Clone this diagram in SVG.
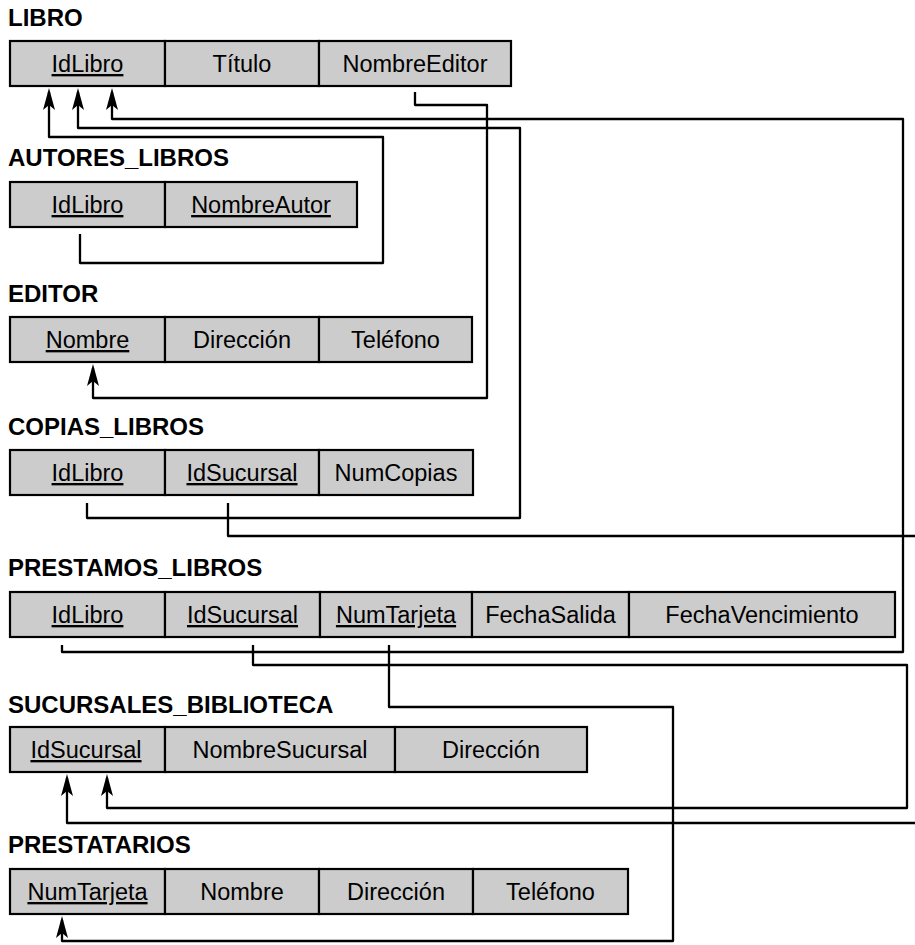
<svg xmlns="http://www.w3.org/2000/svg" width="915" height="945" viewBox="0 0 915 945">
<style>
.bg{fill:#ffffff}
.cell{fill:#cccccc;stroke:#000000;stroke-width:2.2}
.t{font-family:"Liberation Sans",Arial,sans-serif;font-size:23.5px;fill:#000;text-anchor:middle}
.k{text-decoration:underline}
.title{font-family:"Liberation Sans",Arial,sans-serif;font-size:24px;font-weight:bold;fill:#000}
.c{fill:none;stroke:#000;stroke-width:2.3;stroke-linejoin:round}
</style>
<defs>
<marker id="arr" markerUnits="userSpaceOnUse" viewBox="0 0 22 12" refX="18" refY="6" markerWidth="22" markerHeight="12" orient="auto">
<path d="M0,0 L22,6 L0,12 L5,6 Z" fill="#000"/>
</marker>
</defs>
<rect class="bg" x="0" y="0" width="915" height="945"/>

<g id="libro">
<text class="title" x="8" y="26">LIBRO</text>
<rect class="cell" x="10" y="41" width="155" height="45"/>
<rect class="cell" x="165" y="41" width="154" height="45"/>
<rect class="cell" x="319" y="41" width="192" height="45"/>
<text class="t k" x="87.5" y="72">IdLibro</text>
<text class="t" x="242" y="72">Título</text>
<text class="t" x="415" y="72">NombreEditor</text>
</g>

<g id="autores_libros">
<text class="title" x="8" y="166">AUTORES_LIBROS</text>
<rect class="cell" x="10" y="182" width="155" height="45"/>
<rect class="cell" x="165" y="182" width="192" height="45"/>
<text class="t k" x="87.5" y="213">IdLibro</text>
<text class="t k" x="261" y="213">NombreAutor</text>
</g>

<g id="editor">
<text class="title" x="8" y="302">EDITOR</text>
<rect class="cell" x="10" y="317" width="155" height="45"/>
<rect class="cell" x="165" y="317" width="154" height="45"/>
<rect class="cell" x="319" y="317" width="153" height="45"/>
<text class="t k" x="87.5" y="348">Nombre</text>
<text class="t" x="242" y="348">Dirección</text>
<text class="t" x="395.5" y="348">Teléfono</text>
</g>

<g id="copias_libros">
<text class="title" x="8" y="435">COPIAS_LIBROS</text>
<rect class="cell" x="10" y="450" width="155" height="45"/>
<rect class="cell" x="165" y="450" width="154" height="45"/>
<rect class="cell" x="319" y="450" width="154" height="45"/>
<text class="t k" x="87.5" y="481">IdLibro</text>
<text class="t k" x="242" y="481">IdSucursal</text>
<text class="t" x="396" y="481">NumCopias</text>
</g>

<g id="prestamos_libros">
<text class="title" x="8" y="576">PRESTAMOS_LIBROS</text>
<rect class="cell" x="10" y="592" width="155" height="45"/>
<rect class="cell" x="165" y="592" width="155" height="45"/>
<rect class="cell" x="320" y="592" width="152" height="45"/>
<rect class="cell" x="472" y="592" width="157" height="45"/>
<rect class="cell" x="629" y="592" width="266" height="45"/>
<text class="t k" x="87.5" y="623">IdLibro</text>
<text class="t k" x="242.5" y="623">IdSucursal</text>
<text class="t k" x="396" y="623">NumTarjeta</text>
<text class="t" x="550.5" y="623">FechaSalida</text>
<text class="t" x="762" y="623">FechaVencimiento</text>
</g>

<g id="sucursales_biblioteca">
<text class="title" x="8" y="713">SUCURSALES_BIBLIOTECA</text>
<rect class="cell" x="10" y="727" width="155" height="45"/>
<rect class="cell" x="165" y="727" width="230" height="45"/>
<rect class="cell" x="395" y="727" width="192" height="45"/>
<text class="t k" x="86" y="758">IdSucursal</text>
<text class="t" x="280" y="758">NombreSucursal</text>
<text class="t" x="491" y="758">Dirección</text>
</g>

<g id="prestatarios">
<text class="title" x="8" y="853">PRESTATARIOS</text>
<rect class="cell" x="10" y="869" width="155" height="45"/>
<rect class="cell" x="165" y="869" width="154" height="45"/>
<rect class="cell" x="319" y="869" width="154" height="45"/>
<rect class="cell" x="473" y="869" width="155" height="45"/>
<text class="t k" x="87.5" y="900">NumTarjeta</text>
<text class="t" x="242" y="900">Nombre</text>
<text class="t" x="396" y="900">Dirección</text>
<text class="t" x="550.5" y="900">Teléfono</text>
</g>

<g id="connectors">
<path class="c" marker-end="url(#arr)" d="M80,234 V263 H383 V137 H49 V92"/>
<path class="c" marker-end="url(#arr)" d="M87,503 V518 H520 V128 H78 V92"/>
<path class="c" marker-end="url(#arr)" d="M62,645 V652 H903 V119 H112 V92"/>
<path class="c" marker-end="url(#arr)" d="M415,92 V105 H487 V398 H93 V368"/>
<path class="c" marker-end="url(#arr)" d="M228,503 V536 H925 V823 H67 V778"/>
<path class="c" marker-end="url(#arr)" d="M253,645 V665 H907 V808 H107 V778"/>
<path class="c" marker-end="url(#arr)" d="M389,645 V707 H673 V941 H62 V920"/>
</g>
</svg>
